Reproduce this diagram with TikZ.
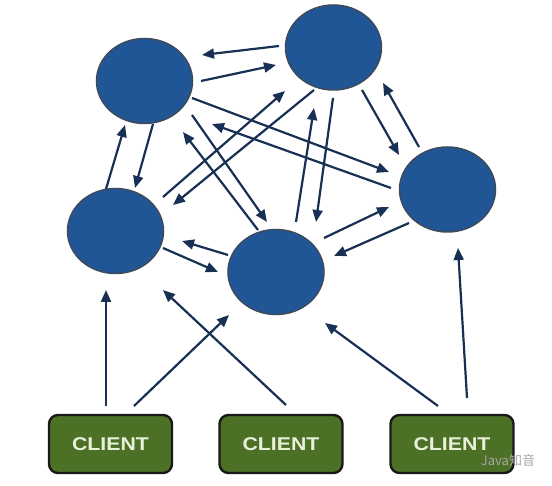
\documentclass[tikz,border=0pt]{standalone}
\usepackage{fontspec}
\usetikzlibrary{arrows.meta,calc,shapes.geometric}
\newfontfamily\clientfont[FakeStretch=1.15]{Liberation Sans Bold}
\newfontfamily\cjkfont{Noto Sans CJK SC}
\definecolor{nodeblue}{RGB}{33,86,150}
\definecolor{nodeedge}{RGB}{60,74,92}
\definecolor{arrnavy}{RGB}{24,48,84}
\definecolor{clientgreen}{RGB}{75,112,38}
\definecolor{clienttext}{RGB}{232,240,218}
\tikzset{
  server/.style={ellipse, draw=nodeedge, line width=1.5pt, fill=nodeblue,
    minimum width=96pt, minimum height=85pt, inner sep=0pt},
  clientbox/.style={rectangle, rounded corners=9pt, draw=black!90, line width=2.4pt,
    fill=clientgreen, minimum width=123pt, minimum height=58pt,
    text=clienttext, font=\clientfont\fontsize{18.5}{20}\selectfont},
  arr/.style={draw=arrnavy, line width=2.2pt,
    -{Triangle[length=12pt,width=10pt]}}
}
\begin{document}
\begin{tikzpicture}[x=1pt,y=-1pt]
\useasboundingbox (0,0) rectangle (552,486);
\fill[white] (0,0) rectangle (552,486);
% servers
\node[server] (A) at (144.5,81) {};
\node[server] (B) at (333.5,47.5) {};
\node[server] (C) at (115.5,231) {};
\node[server] (D) at (276,272) {};
\node[server] (E) at (447.5,189.5) {};
% clients
\node[clientbox] (K1) at (110.5,444) {CLIENT};
\node[clientbox] (K2) at (281,444) {CLIENT};
\node[clientbox] (K3) at (452,444) {CLIENT};
% server connections
\draw[arr] ($(B)+(-54.5,-1.5)$) -- ($(A)+(57.5,-26)$);
\draw[arr] ($(A)+(56.5,0)$) -- ($(B)+(-57.5,17.5)$);
\draw[arr] ($(C)+(-9.5,-42)$) -- ($(A)+(-19.5,44)$);
\draw[arr] ($(A)+(8.5,43)$) -- ($(C)+(19.5,-43)$);
\draw[arr] ($(A)+(47.5,17)$) -- ($(E)+(-58.5,-17.5)$);
\draw[arr] ($(E)+(-56.5,-1.5)$) -- ($(A)+(67.5,43)$);
\draw[arr] ($(A)+(47.5,34)$) -- ($(D)+(-9,-50)$);
\draw[arr] ($(D)+(-18,-42)$) -- ($(A)+(38.5,51)$);
\draw[arr] ($(C)+(47.5,-34)$) -- ($(B)+(-48.5,43.5)$);
\draw[arr] ($(B)+(-19.5,42.5)$) -- ($(C)+(57.5,-26)$);
\draw[arr] ($(B)+(-0.5,50.5)$) -- ($(D)+(40,-50)$);
\draw[arr] ($(D)+(20,-50)$) -- ($(B)+(-19.5,60.5)$);
\draw[arr] ($(B)+(28.5,42.5)$) -- ($(E)+(-48.5,-34.5)$);
\draw[arr] ($(E)+(-28.5,-42.5)$) -- ($(B)+(49.5,35.5)$);
\draw[arr] ($(D)+(48,-34)$) -- ($(E)+(-58.5,17.5)$);
\draw[arr] ($(E)+(-38.5,33.5)$) -- ($(D)+(58,-16)$);
\draw[arr] ($(C)+(47.5,17)$) -- ($(D)+(-58,0)$);
\draw[arr] ($(D)+(-48,-17)$) -- ($(C)+(66.5,10)$);
% client connections
\draw[arr] ($(K1)+(-4.5,-38)$) -- ($(C)+(-9.5,59)$);
\draw[arr] ($(K1)+(23.5,-38)$) -- ($(D)+(-47,43)$);
\draw[arr] ($(K2)+(5,-39)$) -- ($(C)+(47.5,59)$);
\draw[arr] ($(K3)+(-14,-38)$) -- ($(D)+(49,51)$);
\draw[arr] ($(K3)+(15,-46)$) -- ($(E)+(10.5,58.5)$);
% watermark
\node[text=black!35, font=\cjkfont\fontsize{13}{14}\selectfont, inner sep=0pt] (wm) at (508,461) {Java知音};
\end{tikzpicture}
\end{document}
